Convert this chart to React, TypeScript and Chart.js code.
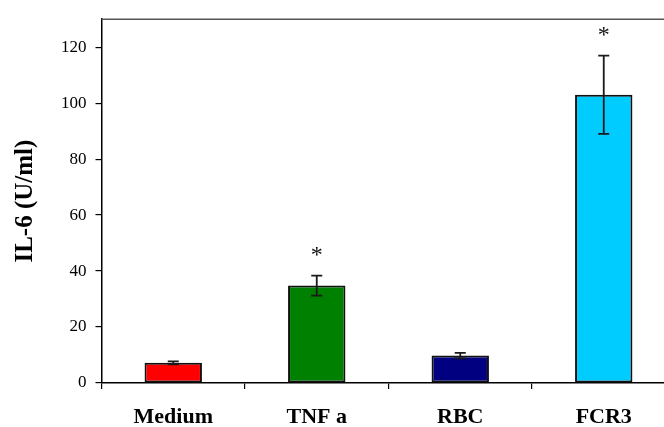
import React, { useEffect, useRef } from "react";
import { Chart, registerables } from "chart.js";

Chart.register(...registerables);

const categories = ["Medium", "TNF a", "RBC", "FCR3"];
const il6Means = [7.2, 34.8, 9.8, 103.0];
const il6Errors = [0.5, 3.6, 1.0, 14.0];
const significance = ["", "*", "", "*"];
const barColors = ["#FF0000", "#008000", "#000080", "#00CCFF"];
const yTicks = [0, 20, 40, 60, 80, 100, 120];
const yMax = 130;
const yTitle = "IL-6 (U/ml)";

const SERIF = "'Liberation Serif', 'Times New Roman', serif";

const decorPlugin = {
  id: "decor",
  afterDatasetsDraw(chart: any) {
    const ctx = chart.ctx;
    const area = chart.chartArea;
    const yScale = chart.scales.y;
    const meta = chart.getDatasetMeta(0);
    ctx.save();
    // top frame line
    ctx.strokeStyle = "#555";
    ctx.lineWidth = 1.5;
    ctx.beginPath();
    ctx.moveTo(area.left, area.top);
    ctx.lineTo(area.right, area.top);
    ctx.stroke();
    // error bars
    ctx.strokeStyle = "#1a1a1a";
    ctx.lineWidth = 1.8;
    meta.data.forEach((bar: any, i: number) => {
      const x = bar.x;
      const yTop = yScale.getPixelForValue(il6Means[i] + il6Errors[i]);
      const yBot = yScale.getPixelForValue(il6Means[i] - il6Errors[i]);
      const cap = 5.5;
      ctx.beginPath();
      ctx.moveTo(x, yTop);
      ctx.lineTo(x, yBot);
      ctx.moveTo(x - cap, yTop);
      ctx.lineTo(x + cap, yTop);
      ctx.moveTo(x - cap, yBot);
      ctx.lineTo(x + cap, yBot);
      ctx.stroke();
      if (significance[i]) {
        ctx.fillStyle = "#111";
        ctx.font = `24px ${SERIF}`;
        const m = ctx.measureText(significance[i]);
        const gh = m.actualBoundingBoxAscent - m.actualBoundingBoxDescent;
        const cy = yTop - 18.5;
        ctx.textAlign = "center";
        ctx.textBaseline = "alphabetic";
        ctx.fillText(significance[i], x, cy + m.actualBoundingBoxAscent - gh / 2);
      }
    });
    // y axis title
    ctx.fillStyle = "#000";
    ctx.font = `bold 25px ${SERIF}`;
    ctx.textAlign = "center";
    ctx.textBaseline = "alphabetic";
    ctx.translate(32, (area.top + area.bottom) / 2);
    ctx.rotate(-Math.PI / 2);
    ctx.fillText(yTitle, 0, 0);
    ctx.restore();
  },
};

export default function App() {
  const canvasRef = useRef<HTMLCanvasElement | null>(null);

  useEffect(() => {
    document.body.style.margin = "0";
    const canvas = canvasRef.current;
    if (!canvas) return;
    const chart = new Chart(canvas, {
      type: "bar",
      data: {
        labels: categories,
        datasets: [
          {
            data: il6Means,
            backgroundColor: barColors,
            borderColor: "#111",
            borderWidth: 2,
            borderSkipped: false,
            barPercentage: 0.4,
            categoryPercentage: 1,
          },
        ],
      },
      options: {
        responsive: false,
        animation: false,
        events: [],
        layout: { padding: { left: 0, top: 14, right: 24.5, bottom: 0 } },
        plugins: {
          legend: { display: false },
          tooltip: { enabled: false },
        },
        scales: {
          x: {
            type: "category",
            offset: true,
            grid: {
              offset: true,
              drawOnChartArea: false,
              drawTicks: true,
              tickLength: 6,
              color: "#000",
              lineWidth: 1.2,
            },
            border: { display: true, color: "#000", width: 1.5 },
            ticks: {
              color: "#000",
              font: { family: SERIF, size: 22, weight: "bold" },
              padding: 15,
              maxRotation: 0,
              autoSkip: false,
            },
            afterFit: (s: any) => {
              s.height = 44;
            },
          },
          y: {
            min: 0,
            max: yMax,
            grid: {
              drawOnChartArea: false,
              drawTicks: true,
              tickLength: 6,
              color: "#000",
              lineWidth: 1.2,
            },
            border: { display: true, color: "#000", width: 1.5 },
            ticks: {
              color: "#000",
              font: { family: SERIF, size: 17 },
              padding: 9,
            },
            afterBuildTicks: (s: any) => {
              s.ticks = yTicks.map((v) => ({ value: v }));
            },
            afterFit: (s: any) => {
              s.width = 101.5;
            },
          },
        },
      },
      plugins: [decorPlugin],
    });
    return () => chart.destroy();
  }, []);

  return (
    <div
      style={{
        position: "absolute",
        left: 0,
        top: 0,
        width: 664,
        height: 427,
        overflow: "hidden",
        background: "#fff",
      }}
    >
      <canvas ref={canvasRef} width={700} height={427} style={{ display: "block" }} />
    </div>
  );
}
